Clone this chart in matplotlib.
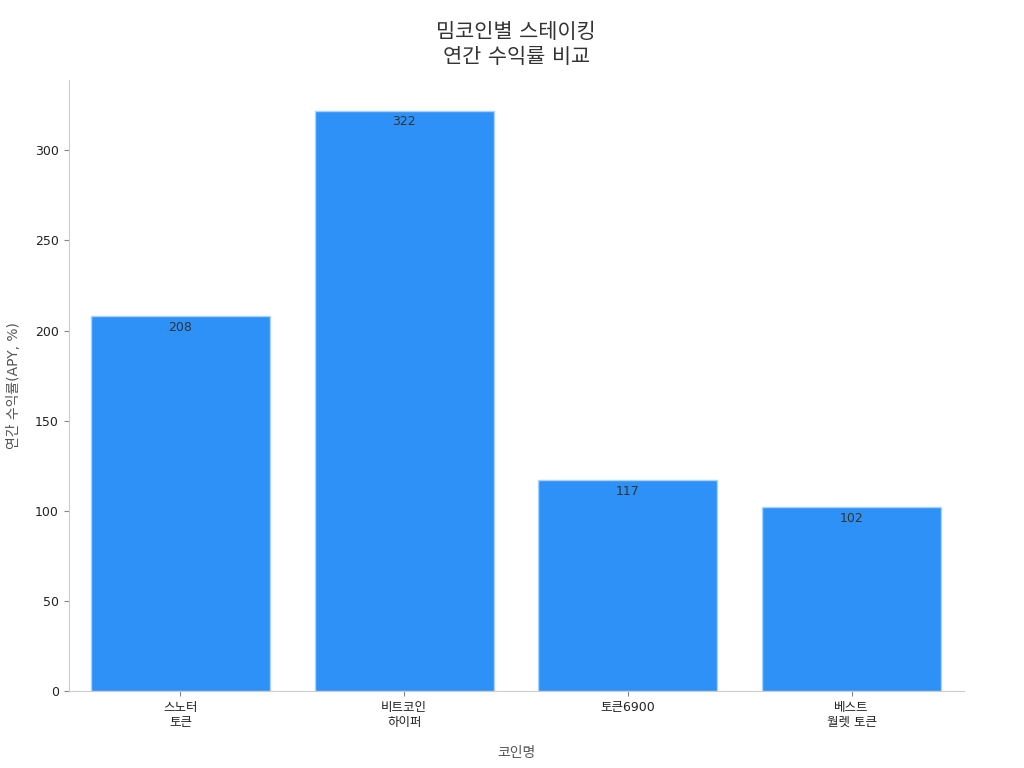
import matplotlib.pyplot as plt

plt.rcParams['font.family'] = ['DejaVu Sans', 'Noto Sans CJK KR']

coins = ['스노터\n토큰', '비트코인\n하이퍼', '토큰6900', '베스트\n월렛 토큰']
apy = [208, 322, 117, 102]

fig, ax = plt.subplots(figsize=(10.24, 7.68), dpi=100)
fig.subplots_adjust(left=0.067, right=0.941, top=0.896, bottom=0.1)

x = range(len(coins))
bars = ax.bar(x, apy, width=0.8, color='#2E91F8', edgecolor='#A9D3FB', linewidth=1)
for xi, v in zip(x, apy):
    ax.text(xi, v - 2.5, str(v), ha='center', va='top', fontsize=9, color='#333333')

ax.set_xlim(-0.5, 3.5)
ax.set_ylim(0, 339)
ax.set_xticks(list(x))
ax.set_xticklabels(coins, fontsize=9, color='#222222')
ax.tick_params(axis='y', labelsize=9, labelcolor='#222222', color='#888888')
ax.tick_params(axis='x', color='#888888')
ax.set_xlabel('코인명', fontsize=10, color='#555555', labelpad=12)
ax.set_ylabel('연간 수익률(APY, %)', fontsize=10, color='#555555', labelpad=10)
ax.set_title('밈코인별 스테이킹\n연간 수익률 비교', fontsize=15, color='#333333', pad=12, linespacing=1.35)

for side in ['top', 'right']:
    ax.spines[side].set_visible(False)
for side in ['left', 'bottom']:
    ax.spines[side].set_color('#CCCCCC')

plt.savefig('out.png')
